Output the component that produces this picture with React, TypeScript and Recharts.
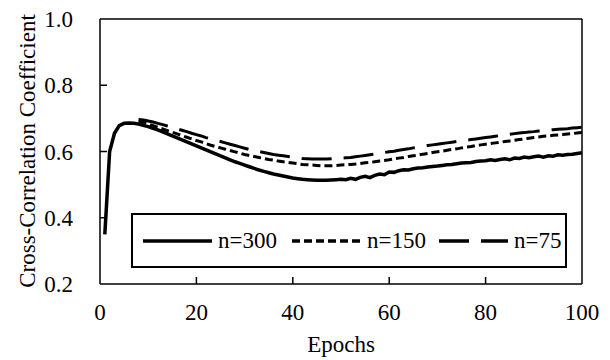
import React from 'react';
import { LineChart, Line, XAxis, YAxis, ReferenceLine, Legend } from 'recharts';

// epochs 1..100 on the x axis
const EPOCHS = Array.from({ length: 100 }, (_, i) => i + 1);

const N300 = [
  0.35, 0.60, 0.655, 0.678, 0.685, 0.686, 0.685, 0.683, 0.679, 0.675,
  0.670, 0.665, 0.659, 0.653, 0.647, 0.641, 0.635, 0.629, 0.623, 0.617,
  0.611, 0.605, 0.599, 0.593, 0.587, 0.581, 0.575, 0.569, 0.564, 0.559,
  0.554, 0.549, 0.544, 0.540, 0.536, 0.532, 0.529, 0.526, 0.523, 0.520,
  0.518, 0.516, 0.515, 0.514, 0.513, 0.513, 0.513, 0.514, 0.515, 0.516,
  0.515, 0.519, 0.516, 0.522, 0.525, 0.521, 0.528, 0.532, 0.530, 0.538,
  0.537, 0.542, 0.545, 0.544, 0.548, 0.550, 0.551, 0.553, 0.555, 0.556,
  0.558, 0.560, 0.561, 0.563, 0.565, 0.566, 0.567, 0.570, 0.571, 0.572,
  0.575, 0.573, 0.576, 0.578, 0.575, 0.580, 0.579, 0.583, 0.581, 0.584,
  0.586, 0.583, 0.587, 0.586, 0.590, 0.589, 0.591, 0.592, 0.594, 0.596,
];

// n=150 and n=75 are recorded from epoch 8
const LATE_START = 8;

const N150 = [
  0.692, 0.688, 0.683, 0.678, 0.673, 0.668, 0.663, 0.658, 0.653, 0.648,
  0.643, 0.638, 0.633, 0.629, 0.624, 0.619, 0.615, 0.611, 0.607, 0.603,
  0.599, 0.595, 0.591, 0.588, 0.585, 0.582, 0.579, 0.576, 0.574, 0.571,
  0.569, 0.567, 0.565, 0.563, 0.561, 0.560, 0.559, 0.558, 0.557, 0.557,
  0.557, 0.558, 0.559, 0.560, 0.561, 0.562, 0.564, 0.566, 0.567, 0.569,
  0.571, 0.573, 0.575, 0.578, 0.580, 0.582, 0.585, 0.587, 0.589, 0.592,
  0.594, 0.597, 0.599, 0.601, 0.604, 0.606, 0.608, 0.611, 0.613, 0.615,
  0.618, 0.620, 0.622, 0.624, 0.626, 0.628, 0.630, 0.632, 0.634, 0.636,
  0.638, 0.640, 0.642, 0.644, 0.646, 0.647, 0.649, 0.650, 0.651, 0.653,
  0.654, 0.656, 0.657,
];

const N75 = [
  0.697, 0.695, 0.692, 0.689, 0.685, 0.681, 0.677, 0.673, 0.668, 0.664,
  0.660, 0.655, 0.651, 0.647, 0.642, 0.638, 0.634, 0.630, 0.626, 0.622,
  0.618, 0.614, 0.610, 0.606, 0.603, 0.600, 0.597, 0.594, 0.591, 0.589,
  0.587, 0.585, 0.583, 0.581, 0.579, 0.578, 0.577, 0.577, 0.577, 0.577,
  0.578, 0.579, 0.580, 0.581, 0.582, 0.584, 0.586, 0.588, 0.590, 0.592,
  0.594, 0.597, 0.599, 0.601, 0.604, 0.606, 0.608, 0.611, 0.613, 0.615,
  0.618, 0.620, 0.622, 0.624, 0.626, 0.628, 0.630, 0.632, 0.634, 0.636,
  0.638, 0.640, 0.642, 0.644, 0.646, 0.648, 0.650, 0.652, 0.654, 0.656,
  0.657, 0.659, 0.660, 0.662, 0.663, 0.665, 0.666, 0.667, 0.668, 0.669,
  0.671, 0.672, 0.673,
];

const X_TICKS = [0, 20, 40, 60, 80, 100];
const Y_TICKS = [0.2, 0.4, 0.6, 0.8, 1.0];

const SERIES = [
  { key: 'n300', name: 'n=300', dash: undefined, width: 3.5 },
  { key: 'n150', name: 'n=150', dash: '8 4', width: 3 },
  { key: 'n75', name: 'n=75', dash: '30 12', width: 3 },
];

const FONT = 'Liberation Serif, Tinos, DejaVu Serif, Noto Serif, serif';
const textStyle = { fontFamily: FONT, fontSize: 23 };

const data = EPOCHS.map((epoch, i) => ({
  epoch,
  n300: N300[i],
  n150: epoch >= LATE_START ? N150[epoch - LATE_START] : null,
  n75: epoch >= LATE_START ? N75[epoch - LATE_START] : null,
}));

const YTick = ({ x, y, payload }: any) => {
  const v = payload.value;
  const inner = v > 0.2 && v < 1.0;
  return (
    <g>
      {inner && <line x1={x} x2={x + 7} y1={y} y2={y} stroke="#000" strokeWidth={1.5} />}
      <text x={x - 27} y={y + 8} textAnchor="end" style={textStyle} fill="#000">
        {v.toFixed(1)}
      </text>
    </g>
  );
};

const XTick = ({ x, y, payload }: any) => {
  const v = payload.value;
  const inner = v > 0 && v < 100;
  return (
    <g>
      {inner && <line x1={x} x2={x} y1={y} y2={y - 7} stroke="#000" strokeWidth={1.5} />}
      <text x={x} y={y + 36} textAnchor="middle" style={textStyle} fill="#000">
        {v}
      </text>
    </g>
  );
};

const YLabel = () => (
  <text
    x={27}
    y={151}
    transform="rotate(-90, 27, 151)"
    textAnchor="middle"
    dominantBaseline="central"
    style={textStyle}
    fill="#000"
  >
    Cross-Correlation Coefficient
  </text>
);

const XLabel = () => (
  <text x={341} y={352} textAnchor="middle" style={textStyle} fill="#000">
    Epochs
  </text>
);

const LegendBox = () => (
  <div
    style={{
      width: 436,
      height: 55,
      boxSizing: 'border-box',
      border: '2px solid #000',
      background: '#fff',
      display: 'flex',
      alignItems: 'center',
      fontFamily: FONT,
      fontSize: 23,
      color: '#000',
    }}
  >
    {SERIES.map((s, i) => (
      <div key={s.key} style={{ display: 'flex', alignItems: 'center', marginLeft: [10, 15, 13][i] }}>
        <svg width={69} height={10}>
          <line x1={0} x2={69} y1={5} y2={5} stroke="#000" strokeWidth={3.5} strokeDasharray={s.dash} />
        </svg>
        <span style={{ marginLeft: 6 }}>{s.name}</span>
      </div>
    ))}
  </div>
);

export default function App() {
  return (
    <div style={{ position: 'absolute', left: 0, top: 0, background: '#fff', fontFamily: FONT }}>
      <LineChart width={610} height={360} data={data} margin={{ top: 19, right: 28, left: 0, bottom: 0 }}>
        <XAxis
          dataKey="epoch"
          type="number"
          domain={[0, 100]}
          ticks={X_TICKS}
          tick={<XTick />}
          tickSize={0}
          tickMargin={0}
          height={76}
          axisLine={{ stroke: '#000', strokeWidth: 1.5 }}
          tickLine={false}
          label={<XLabel />}
        />
        <YAxis
          type="number"
          domain={[0.2, 1.0]}
          ticks={Y_TICKS}
          tick={<YTick />}
          tickSize={0}
          tickMargin={0}
          width={100}
          axisLine={{ stroke: '#000', strokeWidth: 1.5 }}
          tickLine={false}
          label={<YLabel />}
        />
        <ReferenceLine y={1.0} stroke="#000" strokeWidth={1.5} />
        <ReferenceLine x={100} stroke="#000" strokeWidth={1.5} />
        {SERIES.map(s => (
          <Line
            key={s.key}
            dataKey={s.key}
            name={s.name}
            type="linear"
            stroke="#000"
            strokeWidth={s.width}
            strokeDasharray={s.dash}
            dot={false}
            activeDot={false}
            isAnimationActive={false}
          />
        ))}
        <Legend
          layout="horizontal"
          verticalAlign="middle"
          align="center"
          content={<LegendBox />}
          wrapperStyle={{ left: 131, top: 213, width: 436, height: 55 }}
        />
      </LineChart>
    </div>
  );
}
